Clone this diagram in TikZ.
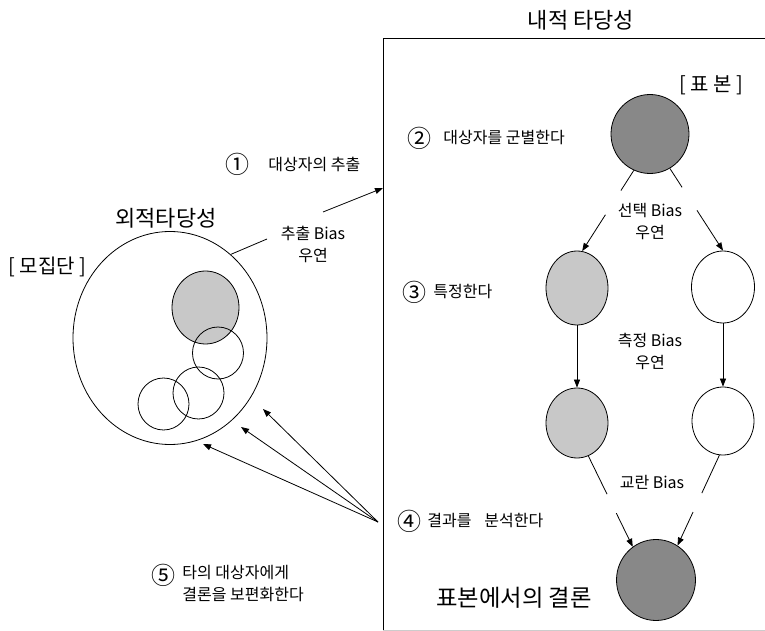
\documentclass[tikz,border=0pt]{standalone}
\usepackage{fontspec}
\setmainfont{Noto Sans CJK KR}
\usetikzlibrary{shapes.geometric,arrows.meta,calc}
\definecolor{darkfill}{HTML}{888888}
\definecolor{lightfill}{HTML}{C8C8C8}
\begin{document}
\begin{tikzpicture}[x=0.75pt,y=-0.75pt,line width=0.6pt,
  ell/.style 2 args={ellipse,draw,inner sep=0pt,minimum width={#1*0.75pt},minimum height={#2*0.75pt}},
  arr/.style={-{Triangle[length=6pt,width=4.5pt]}},
  lbl/.style={font=\fontsize{12}{16.5}\selectfont,inner sep=0pt,align=center},
  num/.style={font=\fontsize{18}{18}\selectfont,inner sep=0pt},
  big/.style={font=\fontsize{16.5}{20}\selectfont,inner sep=0pt},
  brk/.style={font=\fontsize{15}{18}\selectfont,inner sep=0pt}]
\useasboundingbox (0,0) rectangle (765,631);
\fill[white] (0,0) rectangle (765,631);

% frame of internal validity
\draw (383,631) -- (383,38) -- (765,38);
\draw[black!20] (383,630) -- (765,630);

% titles
\node[big] (tin) at (581,20) {내적 타당성};
\node[big] (tex) at (166,218) {외적타당성};
\node[brk] (tsample) at (711.5,85) {[ 표 본 ]};
\node[brk,anchor=west] (tpop) at (8,267) {[ 모집단 ]};
\node[font=\fontsize{17.5}{20}\selectfont,inner sep=0pt,anchor=west] (tconc) at (436,598) {표본에서의 결론};

% population
\node[ell={194}{213}] (pop) at (170,338) {};
\node[ell={67}{73},fill=lightfill] (sub) at (205.5,307.5) {};
\node[ell={51}{52}] (ca) at (218,353) {};
\node[ell={51}{52}] (cb) at (198.5,393) {};
\node[ell={51}{52}] (cc) at (163.5,404) {};

% sample flow
\node[ell={78}{79},fill=darkfill] (s0) at (650,134) {};
\node[ell={62}{74},fill=lightfill] (g1) at (577,288) {};
\node[ell={63}{72}] (w1) at (723,287) {};
\node[ell={62}{70},fill=lightfill] (g2) at (577,423) {};
\node[ell={62}{68}] (w2) at (723,421) {};
\node[ell={79}{81},fill=darkfill] (s1) at (656,580) {};

% step labels
\node[num] (n1) at (237,164) {①};
\node[lbl,anchor=west] (l1) at (268,164) {대상자의 추출};
\node[num] (n2) at (419,138) {②};
\node[lbl,anchor=west] (l2) at (443,138) {대상자를 군별한다};
\node[num] (n3) at (414,292) {③};
\node[lbl,anchor=west] (l3) at (433,292) {특정한다};
\node[num] (n4) at (409,521) {④};
\node[lbl,anchor=west] (l4) at (427,521) {결과를\hspace{0.8em}분석한다};
\node[num] (n5) at (163,575) {⑤};
\node[lbl,anchor=north west,align=left] (l5) at (182,565) {타의 대상자에게\\결론을 보편화한다};

% bias labels
\node[lbl] (b0) at (313,244) {추출 Bias\\우연};
\node[lbl] (b1) at (650,222) {선택 Bias\\우연};
\node[lbl] (b2) at (650,351) {측정 Bias\\우연};
\node[lbl] (b3) at (652,482) {교란 Bias};

% extraction
\coordinate (e0) at (267,239);
\draw (pop.54) -- (e0);
\coordinate (a1s) at (323,212);
\coordinate (a1e) at (383,188);
\draw[arr] (a1s) -- (a1e);

% selection
\draw (s0.246) -- ($(s0.246)!0.25!(g1.82)$);
\draw[arr] ($(s0.246)!0.55!(g1.82)$) -- (g1.82);
\draw (s0.300) -- ($(s0.300)!0.23!(w1.90)$);
\draw[arr] ($(s0.300)!0.51!(w1.90)$) -- (w1.90);

% measurement
\draw[arr] (g1.south) -- (g2.north);
\draw[arr] (w1.south) -- (w2.north);

% confounding
\draw (g2.289) -- ($(g2.289)!0.42!(s1.125)$);
\draw[arr] ($(g2.289)!0.63!(s1.125)$) -- (s1.125);
\draw (w2.264) -- ($(w2.264)!0.42!(s1.58)$);
\draw[arr] ($(w2.264)!0.63!(s1.58)$) -- (s1.58);

% generalisation
\coordinate (src) at (378,522);
\coordinate (t1) at (263,409);
\coordinate (t2) at (241,427);
\coordinate (t3) at (203,444);
\draw[arr] (src) -- (t1);
\draw[arr] (src) -- (t2);
\draw[arr] (src) -- (t3);
\end{tikzpicture}
\end{document}
